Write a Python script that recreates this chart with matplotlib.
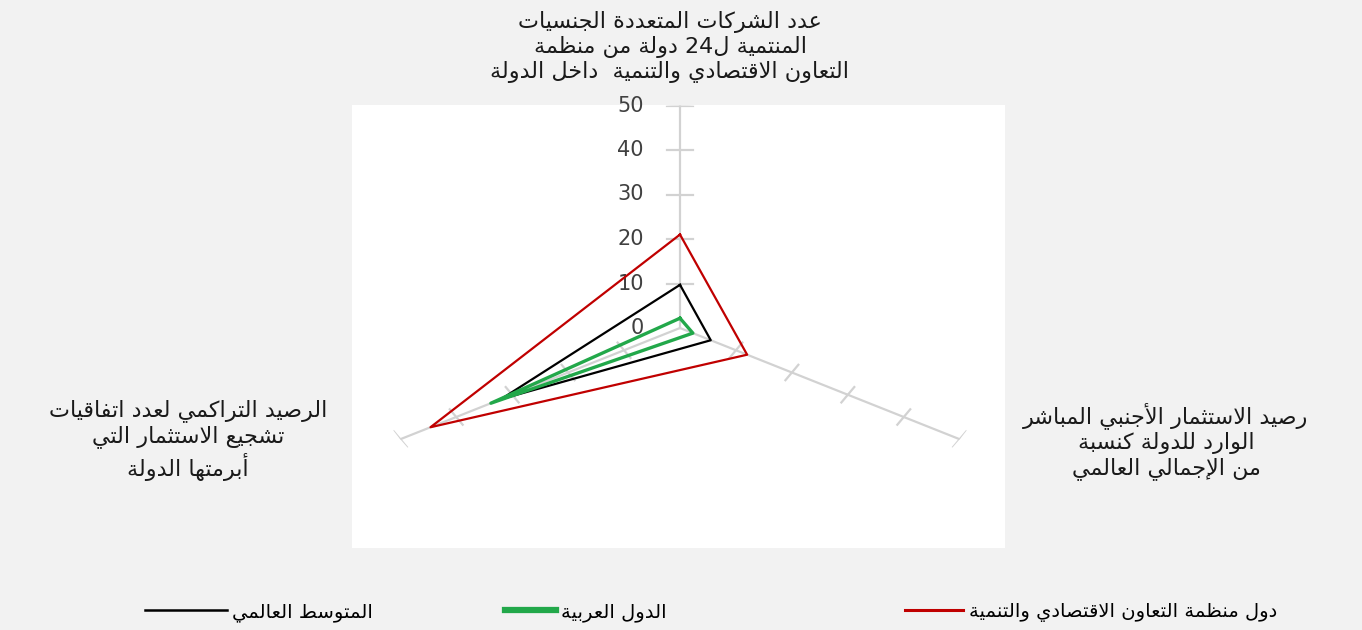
import re
import numpy as np
import matplotlib.pyplot as plt
from matplotlib.lines import Line2D
from matplotlib.patches import Rectangle

# axis labels, clockwise from the top
categories = ['عدد الشركات المتعددة الجنسيات\nالمنتمية ل24 دولة من منظمة\nالتعاون الاقتصادي والتنمية  داخل الدولة',
              'رصيد الاستثمار الأجنبي المباشر\nالوارد للدولة كنسبة\nمن الإجمالي العالمي',
              'الرصيد التراكمي لعدد اتفاقيات\nتشجيع الاستثمار التي\nأبرمتها الدولة']
oecd = [21, 12, 44.6]
world = [9.7, 5.5, 32]
arab = [2.2, 2.3, 33.8]
names = ['دول منظمة التعاون الاقتصادي والتنمية', 'المتوسط العالمي', 'الدول العربية']
r_ticks = [0, 10, 20, 30, 40, 50]

# --- tiny arabic shaper + rtl reorder (matplotlib draws glyphs left to right only) ---
FORMS = {}
_c = 0xFE80
for ch, n in zip('ءآأؤإئابةتثجحخدذرزسشصضطظعغفقكلمنهوىي',
                 [1,2,2,2,2,4,2,4,2,4,4,4,4,4,2,2,2,2,4,4,4,4,4,4,4,4,4,4,4,4,4,4,4,2,2,4]):
    FORMS[ch] = [chr(_c + i) for i in range(n)]
    _c += n
LAMALEF = {'آ': 0xFEF5, 'أ': 0xFEF7, 'إ': 0xFEF9, 'ا': 0xFEFB}

def dual(c):
    return c in FORMS and len(FORMS[c]) == 4

def shape_word(w):
    chars = []
    i = 0
    while i < len(w):
        if w[i] == 'ل' and i+1 < len(w) and w[i+1] in LAMALEF:
            chars.append(('LA', w[i+1]))
            i += 2
        else:
            chars.append(w[i])
            i += 1
    res = []
    for k, c in enumerate(chars):
        prev = chars[k-1] if k > 0 else None
        jp = isinstance(prev, str) and dual(prev)
        if isinstance(c, tuple):
            res.append(chr(LAMALEF[c[1]] + (1 if jp else 0)))
            continue
        if c not in FORMS:
            res.append(c)
            continue
        nxt = chars[k+1] if k+1 < len(chars) else None
        jp = jp and len(FORMS[c]) >= 2
        jn = dual(c) and nxt is not None and (isinstance(nxt, tuple) or (nxt in FORMS and len(FORMS[nxt]) >= 2))
        f = FORMS[c]
        if jp and jn: res.append(f[3])
        elif jp: res.append(f[1])
        elif jn: res.append(f[2])
        else: res.append(f[0])
    return ''.join(res)

def vis(txt):
    out = []
    for line in txt.split('\n'):
        s = ' '.join(shape_word(w) for w in line.split(' '))[::-1]
        out.append(re.sub(r'[0-9]+', lambda m: m.group(0)[::-1], s))
    return '\n'.join(out)

plt.rcParams['font.family'] = ['DejaVu Sans']
fig = plt.figure(figsize=(13.62, 6.3), dpi=100, facecolor='#f2f2f2')
fig.add_artist(Rectangle((352/1362, 82/630), 653/1362, 443/630, transform=fig.transFigure,
                         facecolor='white', edgecolor='none', zorder=0))

ax = fig.add_axes([357/1362, 79.5/630, 646/1362, 445/630], projection='polar')
ax.set_aspect('auto')
ax.patch.set_visible(False)
ax.spines['polar'].set_visible(False)
ax.set_theta_offset(np.pi/2)
ax.set_theta_direction(-1)
ax.grid(False)
ax.set_xticks([])
ax.set_yticks([])
ax.set_ylim(0, 50)

theta = np.arange(len(categories))*2*np.pi/len(categories)
gcol = '#d2d2d2'
for t in theta:
    ax.plot([t, t], [0, r_ticks[-1]], color=gcol, lw=1.6, zorder=1)
    for r in r_ticks[1:]:
        d = 2.0
        rr = np.hypot(r, d)
        a = np.arctan(d/r)
        ax.plot([t-a, t+a], [rr, rr], color=gcol, lw=1.6, zorder=1)

for r in r_ticks:
    ax.annotate(str(r), xy=(0, r), xytext=(-26, 0), textcoords='offset points',
                ha='right', va='center', fontsize=15, color='#404040')

def closed(v):
    return np.append(theta, theta[0]), np.append(v, v[0])

ax.plot(*closed(oecd), color='#c00000', lw=1.6, zorder=3)
ax.plot(*closed(world), color='black', lw=1.6, zorder=4)
ax.plot(*closed(arab), color='#22a84a', lw=2.4, zorder=5)

lab_pos = [(670, 47), (1166, 441), (188, 440)]
for txt, (px, py) in zip(categories, lab_pos):
    fig.text(px/1362, 1-py/630, vis(txt), ha='center', va='center', fontsize=16,
             color='#1a1a1a', linespacing=1.2)

# legend: one small legend per series, like the original layout
leg_items = [(Line2D([], [], color='black', lw=1.8), names[1], 145, 4.2),
             (Line2D([], [], color='#22a84a', lw=4.5), names[2], 505, 2.6),
             (Line2D([], [], color='#c00000', lw=2.2), names[0], 905, 3.0)]
for h, lab, x0, hl in leg_items:
    fig.legend([h], [vis(lab)], loc='center left', bbox_to_anchor=(x0/1362, 18/630),
               frameon=False, borderpad=0, borderaxespad=0, handlelength=hl,
               handletextpad=0.3, fontsize=14)

fig.savefig('out.png', dpi=100, facecolor=fig.get_facecolor())
